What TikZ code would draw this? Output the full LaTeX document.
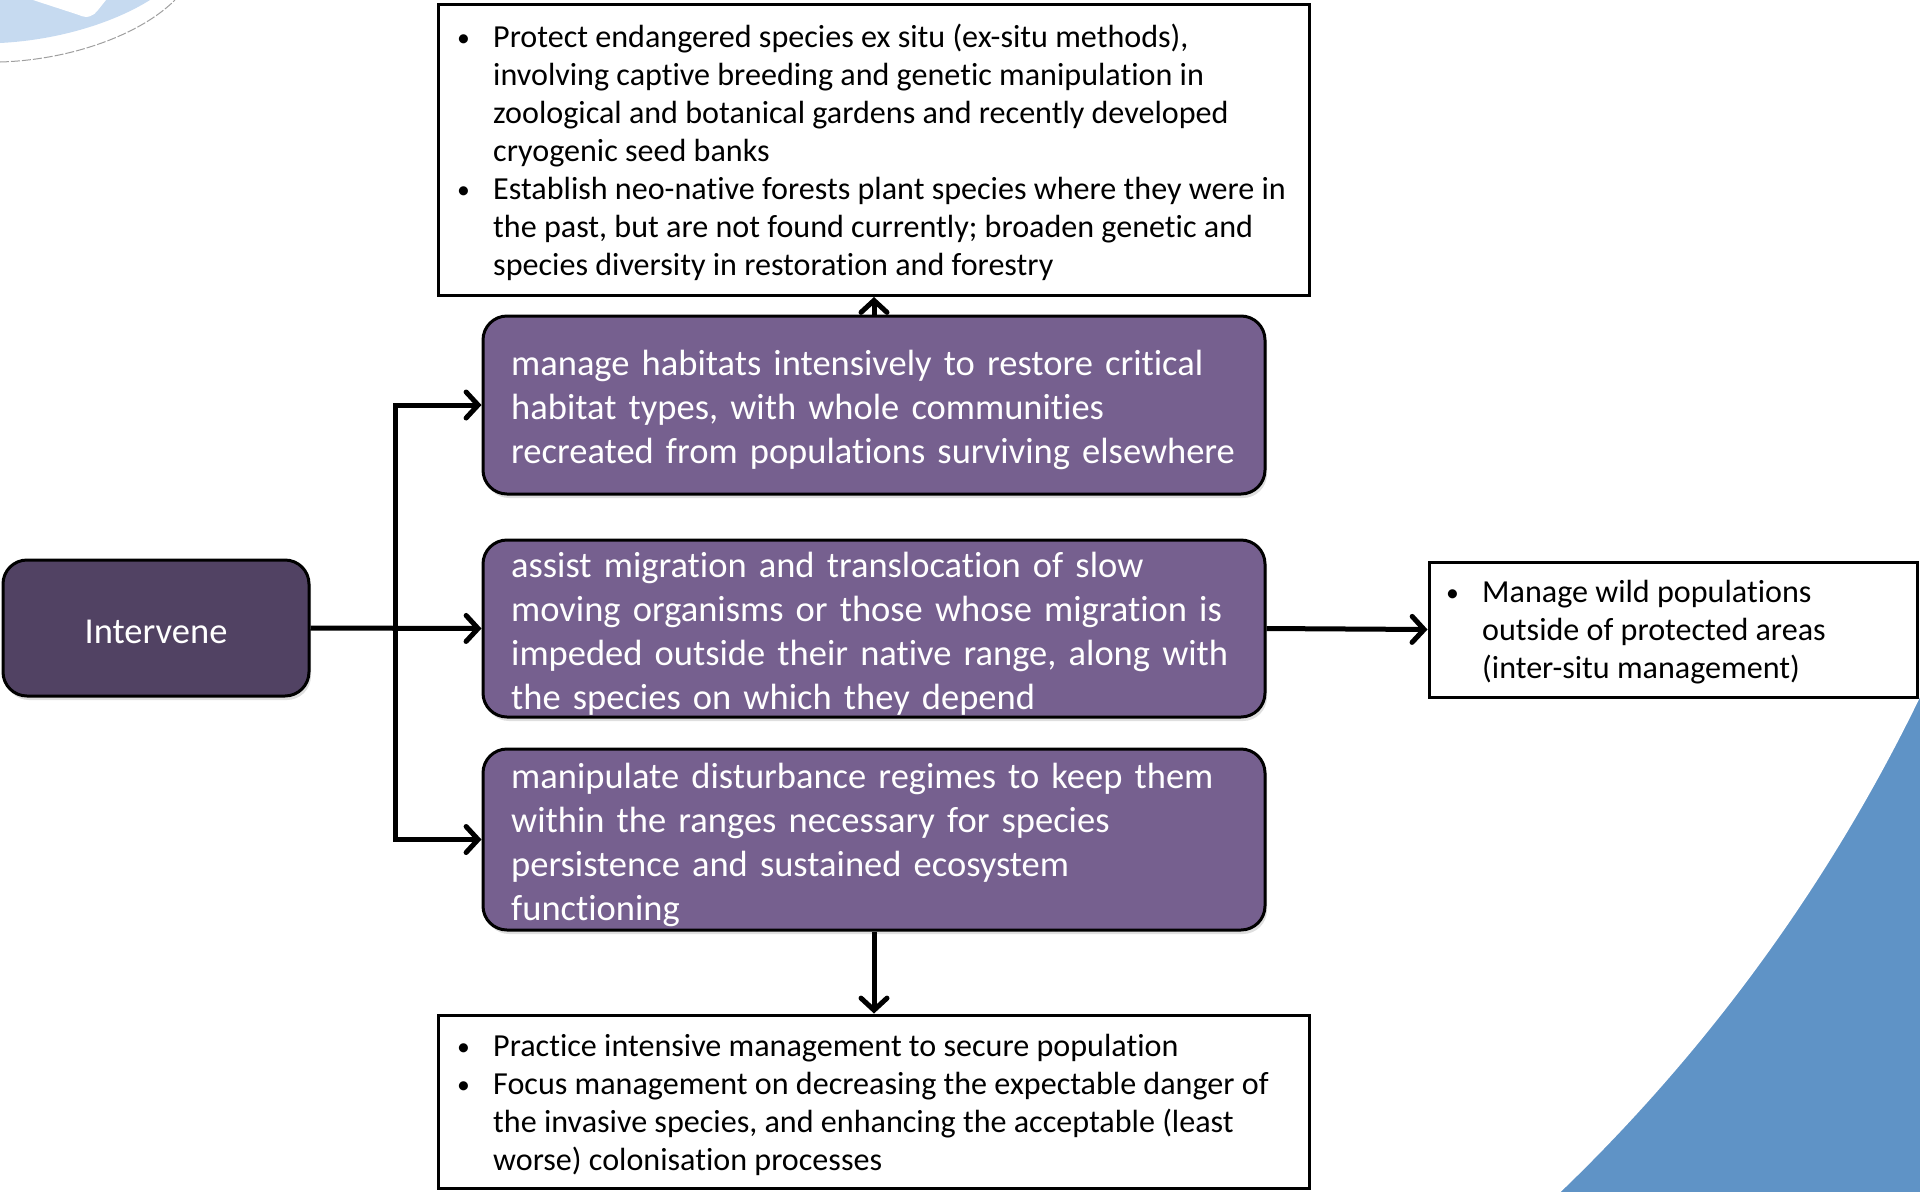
\documentclass[tikz,border=0pt]{standalone}
\usepackage{fontspec}
\setmainfont{Carlito}[Ligatures=NoCommon]
\usetikzlibrary{arrows.meta,shadows}

\definecolor{darkplum}{HTML}{514263}
\definecolor{plum}{HTML}{76608F}
\definecolor{slideblue}{HTML}{5F93C6}
\definecolor{paleblue}{HTML}{C6DAF0}

% small bullet in a 30pt wide column
\newcommand{\bul}{\makebox[30pt][l]{\kern-6pt\raisebox{1pt}{\scalebox{0.8}{\textbullet}}}}

\tikzset{
  notebox/.style={draw=black, line width=3pt, fill=white, inner sep=0pt},
  notetext/.style={inner sep=0pt, anchor=west,
    font=\fontsize{32.1}{38}\selectfont},
  actionbox/.style={draw=black, line width=3pt, fill=plum, rounded corners=24pt,
    inner sep=0pt, minimum width=782pt,
    drop shadow={shadow xshift=2pt, shadow yshift=-4pt, opacity=0.25}},
  actiontext/.style={inner sep=0pt, anchor=west, align=left, text width=780pt,
    text=white, font=\fontsize{36.5}{44}\selectfont},
  link/.style={line width=5pt, -{Straight Barb[length=12pt, width=26pt, line cap=round]}}
}

\begin{document}
\begin{tikzpicture}[x=1pt, y=-1pt]
\useasboundingbox (0,0) rectangle (1920,1192);

% slide decoration: blue corner with a circular edge
\begin{scope}
  \clip (1200,600) rectangle (1920,1192);
  \fill[slideblue] (1200,600) rectangle (1920,1192);
  \fill[white] (361,-56) circle (1731);
\end{scope}

% slide decoration: pale corner at top left
\fill[paleblue] (0,0) -- (150,0) .. controls (115,22) and (60,40) .. (0,43) -- cycle;
\fill[white] (33,0) -- (79,15) .. controls (87,19) and (94,16) .. (98,10) -- (106,0) -- cycle;
\draw[gray!75, dashed, dash pattern=on 9pt off 2pt, line width=1pt]
  (0,62) .. controls (70,60) and (140,35) .. (175,0);

% left start box
\node[draw=black, line width=3pt, fill=darkplum, rounded corners=24pt,
      minimum width=306pt, minimum height=136pt, inner sep=0pt,
      drop shadow={shadow xshift=2pt, shadow yshift=-4pt, opacity=0.25}]
  (intervene) at (156,628) {};
\node[text=white, font=\fontsize{36.5}{44}\selectfont, inner sep=0pt]
  (interventext) at (156,632) {Intervene};

% three action boxes
\node[actionbox, minimum height=178pt] (p1) at (874,405) {};
\node[actionbox, minimum height=177pt] (p2) at (874,628.5) {};
\node[actionbox, minimum height=181pt] (p3) at (874,839.5) {};

\node[actiontext] (p1t) at (511,410) {manage habitats intensively to restore critical\\
habitat types, with whole communities\\
recreated from populations surviving elsewhere};
\node[actiontext] (p2t) at (511,633.5) {assist migration and translocation of slow\\
moving organisms or those whose migration is\\
impeded outside their native range, along with\\
the species on which they depend};
\node[actiontext] (p3t) at (511,845) {manipulate disturbance regimes to keep them\\
within the ranges necessary for species\\
persistence and sustained ecosystem\\
functioning};

% outcome boxes
\node[notebox, minimum width=871pt, minimum height=291pt] (top) at (874,150) {};
\node[notetext] (topt) at (463,154) {%
\begin{tabular}{@{}l@{}l@{}}
\bul & Protect endangered species ex situ (ex-situ methods),\\
     & involving captive breeding and genetic manipulation in\\
     & zoological and botanical gardens and recently developed\\
     & cryogenic seed banks\\
\bul & Establish neo-native forests plant species where they were in\\
     & the past, but are not found currently; broaden genetic and\\
     & species diversity in restoration and forestry
\end{tabular}};

\node[notebox, minimum width=488pt, minimum height=135pt] (right) at (1673,629.5) {};
\node[notetext] (rightt) at (1452,633) {%
\begin{tabular}{@{}l@{}l@{}}
\bul & Manage wild populations\\
     & outside of protected areas\\
     & (inter-situ management)
\end{tabular}};

\node[notebox, minimum width=871pt, minimum height=173pt] (bottom) at (874,1101.5) {};
\node[notetext] (bottomt) at (463,1106) {%
\begin{tabular}{@{}l@{}l@{}}
\bul & Practice intensive management to secure population\\
\bul & Focus management on decreasing the expectable danger of\\
     & the invasive species, and enhancing the acceptable (least\\
     & worse) colonisation processes
\end{tabular}};

% connectors
\coordinate (split) at (395,628);
\draw[link] (intervene.east) -- (p2.west);
\draw[link] (split) |- (p1.west);
\draw[link] (split) |- (p3.west);
\draw[link] (p2.east) -- (right.west);
\draw[link] (p3.south) -- (bottom.north);
\draw[link] (p1.north) -- (top.south);
\end{tikzpicture}
\end{document}
